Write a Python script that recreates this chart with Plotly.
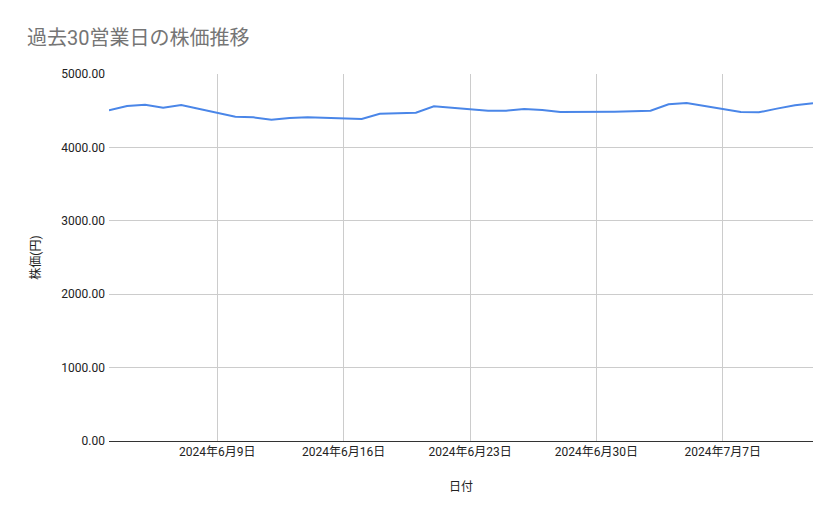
import plotly.graph_objects as go

# 30 business days (Mon-Fri), 2024-06-03 .. 2024-07-12
dates = [
    '2024-06-03', '2024-06-04', '2024-06-05', '2024-06-06', '2024-06-07',
    '2024-06-10', '2024-06-11', '2024-06-12', '2024-06-13', '2024-06-14',
    '2024-06-17', '2024-06-18', '2024-06-19', '2024-06-20', '2024-06-21',
    '2024-06-24', '2024-06-25', '2024-06-26', '2024-06-27', '2024-06-28',
    '2024-07-01', '2024-07-02', '2024-07-03', '2024-07-04', '2024-07-05',
    '2024-07-08', '2024-07-09', '2024-07-10', '2024-07-11', '2024-07-12',
]
prices = [
    4505, 4564, 4582, 4541, 4578,
    4418, 4410, 4378, 4401, 4410,
    4387, 4459, 4464, 4473, 4560,
    4500, 4500, 4523, 4510, 4482,
    4487, 4491, 4500, 4587, 4605,
    4482, 4478, 4528, 4573, 4600,
]

title_text = '過去30営業日の株価推移'
x_title = '日付'
y_title = '株価(円)'

font_family = 'Roboto, Arial, "Noto Sans CJK JP", sans-serif'

# page body has an 8px margin, so the figure is sized to fit inside the window
W, H = 823, 503

fig = go.Figure(go.Scatter(x=dates, y=prices, mode='lines',
                           line=dict(color='#4a86e8', width=2)))

fig.update_layout(
    width=W, height=H,
    margin=dict(l=101, r=18, t=66, b=70),
    paper_bgcolor='white', plot_bgcolor='white',
    font=dict(family=font_family, size=12, color='#222222'),
    showlegend=False,
    title=dict(text=title_text, x=19 / W, xanchor='left', y=1 - 30 / H, yanchor='middle',
               font=dict(size=20, color='#757575')),
    xaxis=dict(
        title=dict(text=x_title, standoff=24, font=dict(size=12, color='#222222')),
        range=['2024-06-03', '2024-07-12'],
        tick0='2024-06-09', dtick=7 * 24 * 3600 * 1000,
        tickformat='%Y年%-m月%-d日',
        showgrid=True, gridcolor='#cccccc', gridwidth=1,
        showline=True, linecolor='#333333', linewidth=1,
        ticks='', zeroline=False,
    ),
    yaxis=dict(
        title=dict(text=y_title, standoff=18, font=dict(size=12, color='#222222')),
        range=[0, 5000], dtick=1000, tickformat='.2f',
        showgrid=True, gridcolor='#cccccc', gridwidth=1,
        zeroline=False, ticks='', ticklabelstandoff=3,
    ),
)

fig.write_html("out.html")
